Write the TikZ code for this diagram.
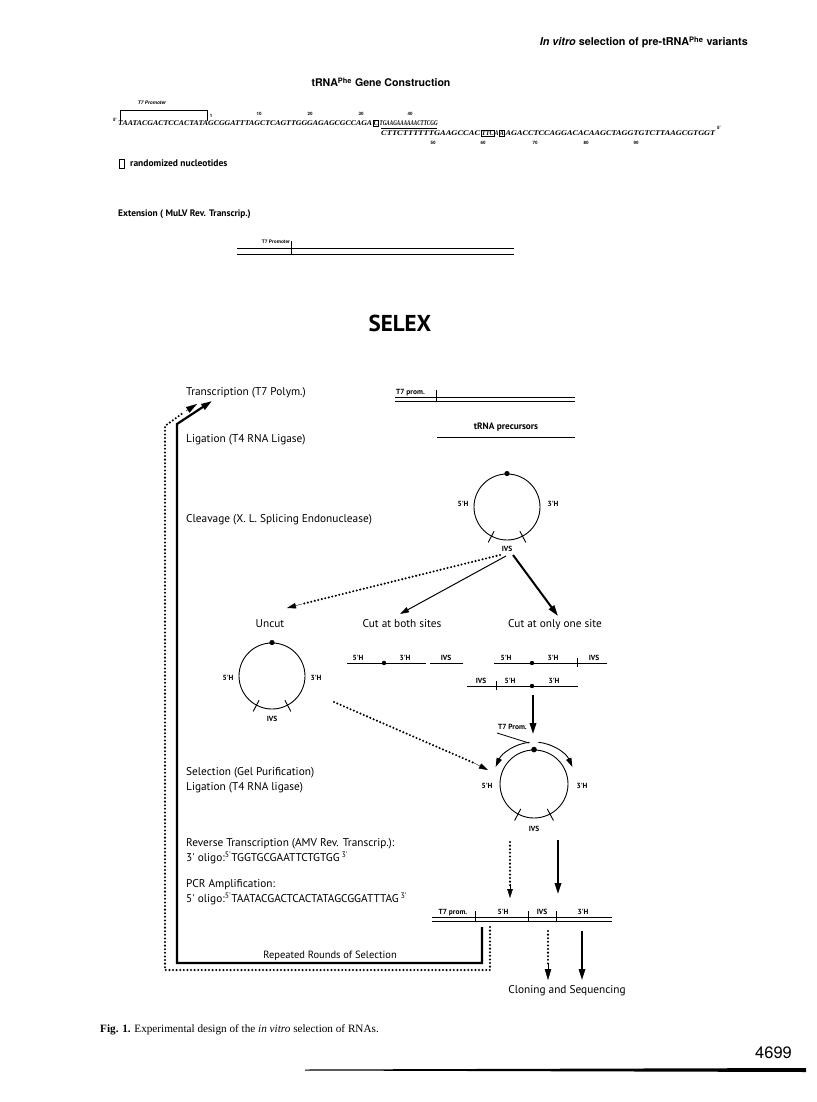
\documentclass[tikz,border=0pt]{standalone}
\usepackage{fontspec}
\setmainfont{Liberation Serif}
\newfontfamily\hv{TeX Gyre Heros}
\newfontfamily\op{PT Sans}
\usetikzlibrary{arrows.meta,calc}
\newcommand\fitw[2]{\resizebox{#1pt}{\height}{#2}}
\tikzset{
  lab/.style={font=\op\fontsize{11.3}{13}\selectfont, anchor=base west, inner sep=0},
  sm/.style={font=\op\bfseries\fontsize{7.4}{8}\selectfont, inner sep=0, anchor=base},
  num/.style={font=\hv\bfseries\fontsize{4.5}{5}\selectfont, inner sep=0, anchor=base},
  seq/.style={font=\bfseries\itshape\fontsize{7.3}{8}\selectfont, inner sep=0, anchor=base west},
  ln/.style={line width=0.9pt},
  dbl/.style={line width=0.7pt},
  ring/.style={circle, draw, line width=0.9pt, inner sep=0, minimum size=#1},
  tipb/.style={-{Triangle[length=11pt,width=6.5pt]}},
  tipm/.style={-{Triangle[length=9pt,width=5.5pt]}},
  dots/.style={line width=2.3pt, dash pattern=on 0pt off 3.6pt, line cap=round},
  bold/.style={line width=2pt},
}
\begin{document}
\begin{tikzpicture}[x=1pt,y=-1pt]
\useasboundingbox (0,0) rectangle (816,1102);
% header
\node[font=\hv\bfseries\fontsize{10.8}{12}\selectfont, anchor=base east, inner sep=0] (hdr) at (748,46) {\textit{In vitro} selection of pre-tRNA\textsuperscript{Phe} variants};
\node[font=\hv\bfseries\fontsize{10.6}{12}\selectfont, anchor=base, inner sep=0] (gct) at (381,87) {tRNA\textsuperscript{Phe} Gene Construction};
% T7 promoter bracket
\draw[line width=0.8pt] (120,121) -- (120,110) -- (207,110) -- (207,121);
\node[num, font=\hv\bfseries\itshape\fontsize{4.8}{5}\selectfont] (t7a) at (152,105) {T7 Promoter};
\node[num] (n1) at (211,118) {1};
\node[num] (n10) at (259,116) {10};
\node[num] (n20) at (310,116) {20};
\node[num] (n30) at (361,116) {30};
\node[num] (n40) at (410,116) {40};
\node[num] (n50) at (433,145) {50};
\node[num] (n60) at (483,145) {60};
\node[num] (n70) at (535,145) {70};
\node[num] (n80) at (586,145) {80};
\node[num] (n90) at (636,145) {90};
\node[num] (p5a) at (115,122) {5'};
\node[seq] (top1) at (118,126) {\fitw{254}{TAATACGACTCCACTATAGCGGATTTAGCTCAGTTGGGAGAGCGCCAGA}};
\node[seq, draw, line width=0.6pt, inner sep=0.6pt] (topbox) at (373,126) {\fitw{4}{C}};
\node[seq] (top2) at (379.5,126) {\fitw{58}{TGAAGAAAAAACTTCGG}};
\draw[line width=0.7pt] (381,128.6) -- (437,128.6);
\node[seq] (bot1) at (381,136) {\fitw{99}{CTTCTTTTTTGAAGCCAC}};
\node[seq, draw, line width=0.6pt, inner sep=0.6pt] (bbox1) at (481,136) {\fitw{12}{TTC}};
\node[seq] (bota) at (494.5,136) {\fitw{4}{A}};
\node[seq, draw, line width=0.6pt, inner sep=0.6pt] (bbox2) at (499,136) {\fitw{4}{A}};
\node[seq] (bot2) at (505.5,136) {\fitw{209.5}{AGACCTCCAGGACACAAGCTAGGTGTCTTAAGCGTGGT}};
\node[num] (p5b) at (719,130) {5'};
% legend
\draw[line width=0.7pt] (119,159) rectangle (124,168);
\node[lab, font=\op\bfseries\fontsize{9.5}{10}\selectfont] (rn) at (130,167) {randomized nucleotides};
\node[lab, font=\op\bfseries\fontsize{9.4}{10}\selectfont] (ext) at (118,216) {Extension ( MuLV Rev. Transcrip.)};
\draw[dbl] (237,248) -- (514,248);
\draw[dbl] (237,254) -- (514,254);
\draw[line width=0.7pt] (291,241) -- (291,255);
\node[num, font=\hv\bfseries\fontsize{4.8}{5}\selectfont] (t7b) at (276,243) {T7 Promoter};
% SELEX
\node[font=\op\bfseries\fontsize{23}{26}\selectfont, anchor=base, inner sep=0] (selex) at (400,331) {SELEX};
% left labels
\node[lab] (tr) at (186,395) {Transcription (T7 Polym.)};
\node[lab] (lig) at (186,442) {Ligation (T4 RNA Ligase)};
\node[lab] (clv) at (186,522) {Cleavage (X. L. Splicing Endonuclease)};
\node[lab] (sel) at (186,775) {Selection (Gel Purification)};
\node[lab] (lig2) at (186,790) {Ligation (T4 RNA ligase)};
\node[lab] (rt) at (186,846) {Reverse Transcription (AMV Rev. Transcrip.):};
\node[lab] (o3) at (186,861) {3' oligo:\textsuperscript{5'}TGGTGCGAATTCTGTGG\,\textsuperscript{3'}};
\node[lab] (pcr) at (186,887) {PCR Amplification:};
\node[lab] (o5) at (186,902) {5' oligo:\textsuperscript{5'}TAATACGACTCACTATAGCGGATTTAG\,\textsuperscript{3'}};
\node[lab, anchor=base, font=\op\fontsize{10.5}{12}\selectfont] (rep) at (330,958) {Repeated Rounds of Selection};
% loop lines
\coordinate (la) at (212,401);
\coordinate (lb) at (197,404);
\draw[line width=2.2pt, tipb] (482,927) -- (482,963) -- (177,963) -- (177,424) -- (la);
\draw[dots] (490,927) -- (490,970) -- (165,970) -- (165,426) -- (183,413);
\draw[tipb] (186,411) -- (lb);
% T7 prom double line
\draw[dbl] (395,397) -- (575,397);
\draw[dbl] (395,401) -- (575,401);
\draw[line width=0.7pt] (436,390) -- (436,402);
\node[sm, anchor=base west] (t7c) at (396,394) {T7 prom.};
\node[sm, font=\op\bfseries\fontsize{9.3}{10}\selectfont] (prec) at (506,429) {tRNA precursors};
\draw[ln] (437,437) -- (575,437);
% circle 1
\node[ring=66pt] (c1) at (507,507) {};
\fill (c1.north) circle (2.6pt);
\draw[ln] ($(c1.center)!0.82!(c1.-118)$) -- ($(c1.center)!1.2!(c1.-118)$);
\draw[ln] ($(c1.center)!0.82!(c1.-62)$) -- ($(c1.center)!1.2!(c1.-62)$);
\node[sm] (c1l) at (463,506) {5'H};
\node[sm] (c1r) at (553,506) {3'H};
\node[sm] (ivs1) at (507,551) {IVS};
% branch labels
\node[lab, anchor=base] (uncut) at (270,627) {Uncut};
\node[lab, anchor=base] (both) at (402,627) {Cut at both sites};
\node[lab, anchor=base] (one) at (555,627) {Cut at only one site};
\coordinate (s0) at (500,555);
\coordinate (s1) at (506,556);
\coordinate (s2) at (513,555);
\draw[dots] (s0) -- (302,604);
\draw[tipm] (302,604) -- (287,608);
\draw[line width=1pt, tipm] (s1) -- (400,614);
\draw[bold, tipb] (s2) -- (558,616);
% uncut circle
\node[ring=66pt] (c2) at (272,676) {};
\fill (c2.north) circle (2.6pt);
\draw[ln] ($(c2.center)!0.82!(c2.-118)$) -- ($(c2.center)!1.2!(c2.-118)$);
\draw[ln] ($(c2.center)!0.82!(c2.-62)$) -- ($(c2.center)!1.2!(c2.-62)$);
\node[sm] (c2l) at (228,680) {5'H};
\node[sm] (c2r) at (316,680) {3'H};
\node[sm] (ivs2) at (272,721) {IVS};
% cut at both sites
\draw[ln] (347,663) -- (426,663);
\fill (384,663) circle (2.2pt);
\node[sm] (b5) at (358,660) {5'H};
\node[sm] (b3) at (405,660) {3'H};
\draw[ln] (430,663) -- (463,663);
\node[sm] (bi) at (446,660) {IVS};
% cut at one site
\draw[ln] (494,663) -- (607,663);
\fill (532,663) circle (2.2pt);
\draw[line width=0.7pt] (577,658) -- (577,667);
\node[sm] (o5h) at (506,660) {5'H};
\node[sm] (o3h) at (553,660) {3'H};
\node[sm] (oiv) at (594,660) {IVS};
\draw[ln] (467,686) -- (578,686);
\fill (532,686) circle (2.2pt);
\draw[line width=0.7pt] (496,681) -- (496,690);
\node[sm] (p1) at (481,683) {IVS};
\node[sm] (p2) at (510,683) {5'H};
\node[sm] (p3) at (554,683) {3'H};
% down arrow to circle 3
\draw[bold, tipb] (533,695) -- (533,734);
% circle 3
\node[ring=68pt] (c3) at (534,784) {};
\fill (c3.north) circle (2.8pt);
\draw[ln] ($(c3.center)!0.82!(c3.-118)$) -- ($(c3.center)!1.2!(c3.-118)$);
\draw[ln] ($(c3.center)!0.82!(c3.-62)$) -- ($(c3.center)!1.2!(c3.-62)$);
\node[sm] (c3l) at (487,788) {5'H};
\node[sm] (c3r) at (582,788) {3'H};
\node[sm] (ivs3) at (534,831) {IVS};
\node[sm, anchor=base east] (t7p) at (527,729) {T7 Prom.};
\draw[line width=0.8pt] (497,733) -- (529,743);
\draw[line width=0.9pt, tipm] ($(c3.center)+(-84:42)$) arc (-84:-24:42);
\draw[line width=0.9pt, tipm] ($(c3.center)+(-96:42)$) arc (-96:-156:42);
% dotted from uncut to circle 3
\draw[dots] (334,702) -- (474,763);
\draw[tipm] (472,762) -- (488,770);
% down arrows to bottom line
\draw[dots] (510,842) -- (510,886);
\draw[tipm] (510,884) -- (510,898);
\draw[bold, tipb] (558,840) -- (558,894);
% bottom double line
\draw[dbl] (432,917) -- (612,917);
\draw[dbl] (432,921) -- (612,921);
\foreach \xx in {475,528,556} \draw[line width=0.7pt] (\xx,911) -- (\xx,922);
\node[sm] (b1) at (453,914) {T7 prom.};
\node[sm] (b2) at (503,914) {5'H};
\node[sm] (b3b) at (542,914) {IVS};
\node[sm] (b4) at (583,914) {3'H};
\draw[dots] (548,931) -- (548,966);
\draw[tipb] (548,964) -- (548,980);
\draw[line width=1.6pt, tipb] (582,931) -- (582,980);
\node[lab, anchor=base] (clon) at (567,993) {Cloning and Sequencing};
% caption
\node[anchor=base west, inner sep=0, font=\fontsize{11.2}{13}\selectfont] (cap) at (100,1032) {\textbf{Fig. 1.} Experimental design of the \textit{in vitro} selection of RNAs.};
\node[anchor=base west, inner sep=0, font=\hv\fontsize{16.5}{18}\selectfont] (pg) at (755,1058) {4699};
\fill (305,1069.5) -- (806,1068) -- (806,1072) -- (305,1070.5) -- cycle;
\end{tikzpicture}
\end{document}
